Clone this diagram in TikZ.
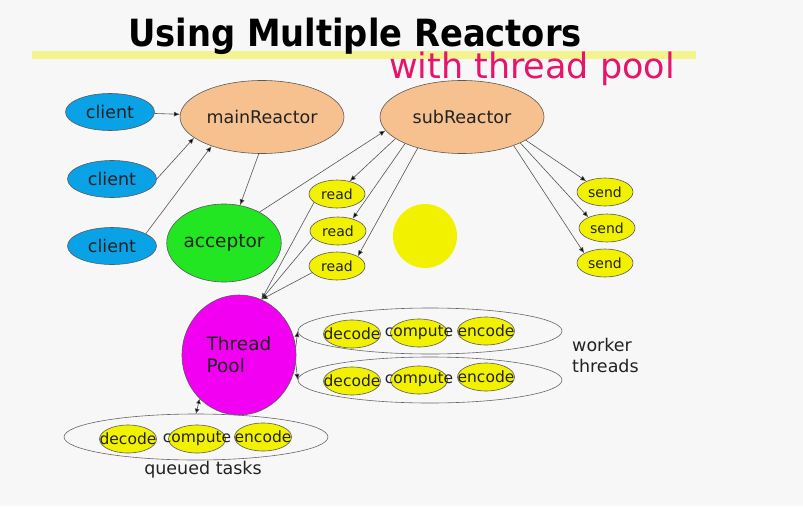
\documentclass[tikz,border=0pt]{standalone}
\usepackage{fontspec}
\usepackage{graphicx}
\setmainfont{DejaVu Sans}
\newfontfamily\condfont{DejaVu Sans Condensed}
\usetikzlibrary{shapes.geometric,arrows.meta}
\definecolor{bgc}{HTML}{F7F7F7}
\definecolor{clientc}{HTML}{0AA2E6}
\definecolor{tanc}{HTML}{F6C18F}
\definecolor{greenc}{HTML}{22E622}
\definecolor{yelc}{HTML}{F2F200}
\definecolor{magc}{HTML}{F200F2}
\definecolor{pinkc}{HTML}{E6146A}
\definecolor{hlc}{HTML}{F4F48E}
\definecolor{linec}{HTML}{555555}
\definecolor{txtc}{HTML}{222222}
\newcommand{\fixw}[1]{\makebox[0pt]{#1}}
\tikzset{
  wh/.style 2 args={minimum width=#1pt, minimum height=#2pt},
  ell/.style={ellipse, draw=black!65, line width=0.6pt, inner sep=0pt, text=txtc},
  clientnode/.style={ell, fill=clientc, wh={89}{37}, font=\fontsize{17.5}{17.5}\selectfont},
  reactor/.style={ell, fill=tanc, wh={164}{73}, font=\fontsize{17.5}{17.5}\selectfont},
  smallnode/.style={ell, fill=yelc, wh={56}{28}, font=\fontsize{14}{14}\selectfont},
  tasknode/.style={ell, fill=yelc, wh={57}{28}, font=\fontsize{15.5}{15.5}\selectfont},
  groupnode/.style={ell, draw=black!60, wh={264}{46}},
  arr/.style={draw=linec, line width=0.6pt, -{Latex[length=6pt,width=5pt,fill=black]}},
  plain/.style={text=txtc, inner sep=0pt, font=\fontsize{17.5}{21}\selectfont}
}
\begin{document}
\begin{tikzpicture}[x=1pt,y=-1pt]
\fill[bgc] (0,0) rectangle (803,506);
\useasboundingbox (0,0) rectangle (803,506);
% title
\fill[hlc] (32,51) rectangle (696,59);
\node[inner sep=0pt, anchor=base, font=\fontsize{37.5}{37.5}\selectfont\condfont\bfseries] (title) at (355,46) {Using Multiple Reactors};
\node[inner sep=0pt, anchor=base, text=pinkc, font=\fontsize{35}{35}\selectfont] (subtitle) at (532,78) {with thread pool};
% nodes
\node[clientnode] (c1) at (110,112) {client};
\node[clientnode] (c2) at (112,179) {client};
\node[clientnode] (c3) at (112,246) {client};
\node[reactor] (main) at (262,117) {mainReactor};
\node[reactor] (sub) at (462,117) {subReactor};
\node[ell, fill=greenc, wh={113}{78}, font=\fontsize{18.5}{18.5}\selectfont] (acc) at (224,243) {acceptor};
\node[smallnode] (r1) at (337,194) {read};
\node[smallnode] (r2) at (338,231) {read};
\node[smallnode] (r3) at (337,266) {read};
\node[circle, fill=yelc, minimum size=64pt, inner sep=0pt] (dot) at (425,236) {};
\node[smallnode] (s1) at (605,192) {send};
\node[smallnode] (s2) at (607,228) {send};
\node[smallnode] (s3) at (605,263) {send};
\node[ell, fill=magc, wh={114}{120}, align=left, font=\fontsize{18.5}{22}\selectfont] (tp) at (239,355) {Thread\\Pool};
% worker groups
\node[groupnode] (w1) at (430,331) {};
\node[groupnode] (w2) at (430,380) {};
\node[groupnode] (q) at (196,437) {};
\node[tasknode] (w1d) at (352,334) {\fixw{decode}};
\node[tasknode] (w1c) at (419,333) {\fixw{compute}};
\node[tasknode] (w1e) at (486,331) {\fixw{encode}};
\node[tasknode] (w2d) at (352,381) {\fixw{decode}};
\node[tasknode] (w2c) at (419,380) {\fixw{compute}};
\node[tasknode] (w2e) at (486,377) {\fixw{encode}};
\node[tasknode] (qd) at (128,439) {\fixw{decode}};
\node[tasknode] (qc) at (197,439) {\fixw{compute}};
\node[tasknode] (qe) at (263,437) {\fixw{encode}};
\node[plain, align=left, anchor=west] (wt) at (572,355) {worker\\threads};
\node[plain] (qt) at (203,470) {queued tasks};
% connectors
\draw[arr] (c1) -- (main);
\draw[arr] (c2.east) -- (main.197);
\draw[arr] (c3.20) -- (main.210);
\draw[arr] (main.265) -- (acc.67);
\draw[arr] (acc.41) -- (sub.190);
\draw[arr] (sub.198) -- (r1.45);
\draw[arr] (sub.205) -- (r2.40);
\draw[arr] (sub.215) -- (r3.25);
\draw[arr] (sub.-20) -- (s1.150);
\draw[arr] (sub.-24) -- (s2.150);
\draw[arr] (sub.-29) -- (s3.155);
\draw[arr] (r1.200) -- (tp.68);
\draw[arr] (r2.195) -- (tp.68);
\draw[arr] (r3.195) -- (tp.68);
\draw[arr] (tp.8) -- (w1.west);
\draw[arr] (tp.-8) -- (w2.west);
\draw[draw=linec, line width=0.6pt, {Latex[length=5pt,width=5pt,fill=black]}-{Latex[length=5pt,width=5pt,fill=black]}] (tp.228) -- (q.north);
\end{tikzpicture}
\end{document}
